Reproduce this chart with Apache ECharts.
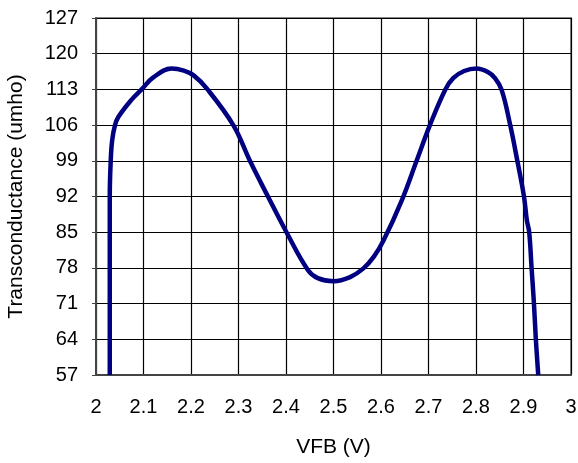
<!DOCTYPE html>
<html>
<head>
<meta charset="utf-8">
<script src="https://cdn.jsdelivr.net/npm/echarts@6/dist/echarts.min.js"></script>
<style>html,body{margin:0;padding:0;background:#fff;}#c{width:578px;height:463px;}</style>
</head>
<body>
<div id="c"></div>
<script>
var vfb = [2.029, 2.029, 2.029, 2.031, 2.034, 2.040, 2.047, 2.074, 2.096, 2.12, 2.159, 2.185, 2.205, 2.233, 2.289, 2.324, 2.362, 2.401, 2.446, 2.467, 2.5, 2.535, 2.563, 2.585, 2.605, 2.644, 2.675, 2.703, 2.735, 2.752, 2.775, 2.801, 2.825, 2.84, 2.854, 2.872, 2.887, 2.901, 2.907, 2.912, 2.917, 2.922, 2.926, 2.931];
var gm  = [57, 85, 92, 99, 103, 106, 107.6, 110.9, 113, 115.3, 117.1, 116.7, 115.8, 113.2, 106, 99, 92, 85, 77.6, 76.0, 75.4, 76.2, 77.9, 80.2, 83.3, 91.3, 99, 106, 112.9, 115.2, 116.6, 117.1, 116.4, 115.2, 112.9, 106, 99, 92, 87.4, 85, 78, 71, 64, 57];
var xTicks = {min: 2, max: 3, step: 0.1};
var yTicks = {min: 57, max: 127, step: 7};

var pts = vfb.map(function (v, i) { return [v, gm[i]]; });
var chart = echarts.init(document.getElementById('c'));
var font = 'Liberation Sans, Arial, sans-serif';
chart.setOption({
  animation: false,
  grid: {left: 96, top: 18, right: 7, bottom: 88, show: true, borderColor: '#888', borderWidth: 2,
         containLabel: false, outerBoundsMode: 'none'},
  xAxis: {
    type: 'value', min: xTicks.min, max: xTicks.max, interval: xTicks.step,
    name: 'VFB (V)', nameLocation: 'middle', nameGap: 62,
    nameTextStyle: {fontFamily: font, fontSize: 21, color: '#000'},
    axisLine: {show: true, lineStyle: {color: '#444', width: 2}},
    axisTick: {show: false},
    axisLabel: {fontFamily: font, fontSize: 20, color: '#000', margin: 22,
      formatter: function (v) { return +v.toFixed(1) + ''; }},
    splitLine: {show: true, lineStyle: {color: '#000', width: 1.2}}
  },
  yAxis: {
    type: 'value', min: yTicks.min, max: yTicks.max, interval: yTicks.step,
    name: 'Transconductance (umho)', nameLocation: 'middle', nameGap: 69,
    nameTextStyle: {fontFamily: font, fontSize: 21, color: '#000'},
    axisLine: {show: true, lineStyle: {color: '#444', width: 2}},
    axisTick: {show: true, length: 4, lineStyle: {color: '#444'}},
    axisLabel: {fontFamily: font, fontSize: 20, color: '#000', margin: 18},
    splitLine: {show: true, lineStyle: {color: '#000', width: 1.2}}
  },
  series: [{
    type: 'line', data: pts, showSymbol: false, smooth: 0.4, smoothMonotone: 'none',
    lineStyle: {color: '#000080', width: 4.5}, clip: true
  }]
});
</script>
</body>
</html>
